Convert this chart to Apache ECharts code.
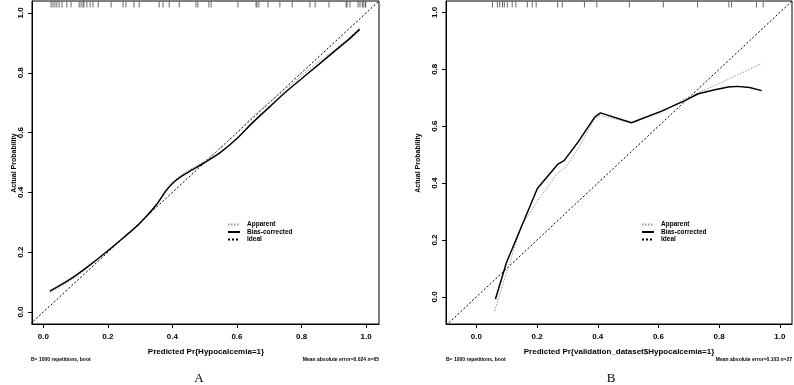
<!DOCTYPE html>
<html>
<head>
<meta charset="utf-8">
<script src="https://cdn.jsdelivr.net/npm/echarts@6/dist/echarts.min.js"></script>
<style>
  html, body { margin: 0; padding: 0; background: #fff; }
  #chart { width: 794px; height: 385px; }
</style>
</head>
<body>
<div id="chart"></div>
<script>
// panel A : training set calibration
const apparentA_x = [0.02, 0.05, 0.1, 0.15, 0.2, 0.25, 0.3, 0.35, 0.38, 0.4, 0.43, 0.46, 0.5, 0.55, 0.6, 0.65, 0.7, 0.75, 0.8, 0.85, 0.9, 0.95, 0.98];
const apparentA_y = [0.065, 0.082, 0.118, 0.16, 0.205, 0.25, 0.3, 0.362, 0.41, 0.435, 0.46, 0.48, 0.505, 0.55, 0.6, 0.655, 0.7, 0.745, 0.79, 0.835, 0.875, 0.92, 0.95];
const biasA_x = [0.02, 0.05, 0.1, 0.15, 0.2, 0.25, 0.3, 0.35, 0.38, 0.4, 0.43, 0.46, 0.5, 0.55, 0.6, 0.65, 0.7, 0.75, 0.8, 0.85, 0.9, 0.95, 0.98];
const biasA_y = [0.07, 0.088, 0.122, 0.162, 0.205, 0.25, 0.298, 0.358, 0.405, 0.43, 0.455, 0.475, 0.5, 0.535, 0.58, 0.635, 0.685, 0.735, 0.78, 0.825, 0.87, 0.915, 0.945];
const rugA = [0.024, 0.030, 0.036, 0.042, 0.049, 0.058, 0.073, 0.086, 0.111, 0.117, 0.123, 0.126, 0.135, 0.145, 0.154, 0.170, 0.210, 0.247, 0.256, 0.281, 0.297, 0.359, 0.371, 0.390, 0.421, 0.473, 0.479, 0.513, 0.520, 0.603, 0.659, 0.662, 0.668, 0.696, 0.733, 0.771, 0.826, 0.842, 0.885, 0.938, 0.941, 0.950, 0.975, 0.981, 0.988, 0.991, 0.997, 0.999];
const idealA = [-0.04, 1.04];

// panel B : validation set calibration
const apparentB_x = [0.06, 0.115, 0.148, 0.198, 0.269, 0.291, 0.335, 0.39, 0.409, 0.511, 0.61, 0.698, 0.8, 0.87, 0.94];
const apparentB_y = [-0.05, 0.138, 0.25, 0.332, 0.438, 0.452, 0.52, 0.626, 0.638, 0.612, 0.649, 0.702, 0.75, 0.785, 0.82];
const biasB_x = [0.063, 0.099, 0.201, 0.269, 0.289, 0.335, 0.39, 0.409, 0.511, 0.61, 0.687, 0.731, 0.786, 0.83, 0.86, 0.9, 0.94];
const biasB_y = [-0.007, 0.12, 0.381, 0.467, 0.479, 0.544, 0.632, 0.647, 0.612, 0.653, 0.69, 0.714, 0.728, 0.738, 0.74, 0.736, 0.725];
const rugB = [0.053, 0.069, 0.077, 0.086, 0.092, 0.102, 0.118, 0.130, 0.168, 0.184, 0.197, 0.268, 0.283, 0.356, 0.397, 0.504, 0.616, 0.729, 0.832, 0.841, 0.923, 0.945];
const idealB = [-0.1, 1.04];

const tickVals = [0, 0.2, 0.4, 0.6, 0.8, 1.0];
const legendNames = ['Apparent', 'Bias-corrected', 'Ideal'];

const FONT = 'Liberation Sans';

function pairs(xs, ys) {
    return xs.map(function (x, i) { return [x, ys[i]]; });
}

function xAxisFor(idx, min, max) {
    return {
        type: 'value', gridIndex: idx, min: min, max: max,
        splitLine: { show: false },
        axisLine: { show: true, onZero: false, lineStyle: { color: '#000', width: 1 } },
        axisTick: { show: true, length: 4, customValues: tickVals, lineStyle: { color: '#000' } },
        axisLabel: {
            customValues: tickVals, margin: 9, color: '#000',
            fontFamily: FONT, fontSize: 8, fontWeight: 'bold',
            formatter: function (v) { return v.toFixed(1); }
        }
    };
}

function yAxisFor(idx, min, max, margin) {
    return {
        type: 'value', gridIndex: idx, min: min, max: max,
        splitLine: { show: false },
        axisLine: { show: true, onZero: false, lineStyle: { color: '#000', width: 1 } },
        axisTick: { show: true, length: 4, customValues: tickVals, lineStyle: { color: '#000' } },
        axisLabel: {
            customValues: tickVals, margin: margin, rotate: 90, color: '#000',
            fontFamily: FONT, fontSize: 8, fontWeight: 'bold',
            formatter: function (v) { return v.toFixed(1); }
        }
    };
}

function seriesFor(idx, apparent, bias, ideal, rug, top, smooth) {
    return [
        {
            name: 'Ideal', type: 'line', xAxisIndex: idx, yAxisIndex: idx,
            data: [[ideal[0], ideal[0]], [ideal[1], ideal[1]]],
            symbol: 'none', silent: true, color: '#000',
            lineStyle: { color: '#000', width: 1, type: [2, 2] }
        },
        {
            name: 'Apparent', type: 'line', xAxisIndex: idx, yAxisIndex: idx,
            data: apparent, symbol: 'none', smooth: smooth, color: '#999',
            lineStyle: { color: '#999', width: 1, type: [1.5, 1.5] }
        },
        {
            name: 'Bias-corrected', type: 'line', xAxisIndex: idx, yAxisIndex: idx,
            data: bias, symbol: 'none', smooth: smooth, color: '#000',
            lineStyle: { color: '#000', width: 1.5 }
        },
        {
            name: 'rug', type: 'scatter', xAxisIndex: idx, yAxisIndex: idx,
            data: rug.map(function (x) { return [x, top]; }),
            symbol: 'rect', symbolSize: [0.9, 6], symbolOffset: [0, 3.5],
            itemStyle: { color: '#333' }, silent: true
        }
    ];
}

function legendFor(left) {
    return {
        data: legendNames, orient: 'vertical', left: left, top: 221, padding: 0,
        itemWidth: 12, itemHeight: 8, itemGap: 0.5, selectedMode: false,
        itemStyle: { opacity: 0 },
        textStyle: { fontFamily: FONT, fontSize: 6.5, fontWeight: 'bold', color: '#000', padding: [0, 0, 0, 2] }
    };
}

function label(text, x, y, opts) {
    return Object.assign({
        type: 'text', x: x, y: y,
        style: { text: text, fill: '#000', font: 'bold 8px "' + FONT + '"', align: 'center', verticalAlign: 'middle' }
    }, opts || {});
}

const chart = echarts.init(document.getElementById('chart'));

chart.setOption({
    animation: false,
    backgroundColor: '#fff',
    grid: [
        { left: 32, right: 415, top: 1, bottom: 61, show: true, borderColor: '#000', borderWidth: 1, containLabel: false },
        { left: 446, right: 2, top: 1, bottom: 61, show: true, borderColor: '#000', borderWidth: 1, containLabel: false }
    ],
    xAxis: [xAxisFor(0, -0.035, 1.04), xAxisFor(1, -0.1, 1.04)],
    yAxis: [yAxisFor(0, -0.04, 1.04, 7), yAxisFor(1, -0.095, 1.04, 7)],
    legend: [legendFor(227), legendFor(641)],
    series: [].concat(
        seriesFor(0, pairs(apparentA_x, apparentA_y), pairs(biasA_x, biasA_y), idealA, rugA, 1.04, 0.3),
        seriesFor(1, pairs(apparentB_x, apparentB_y), pairs(biasB_x, biasB_y), idealB, rugB, 1.04, false)
    ),
    graphic: [
        label('Actual Probability', 14, 163, { rotation: Math.PI / 2, style: { text: 'Actual Probability', fill: '#000', font: 'bold 7px "' + FONT + '"', align: 'center', verticalAlign: 'middle' } }),
        label('Actual Probability', 418, 163, { rotation: Math.PI / 2, style: { text: 'Actual Probability', fill: '#000', font: 'bold 7px "' + FONT + '"', align: 'center', verticalAlign: 'middle' } }),
        label('Predicted Pr{Hypocalcemia=1}', 206, 352),
        label('Predicted Pr{validation_dataset$Hypocalcemia=1}', 619, 352),
        { type: 'text', x: 31, y: 360, style: { text: 'B= 1000 repetitions, boot', fill: '#000', font: 'bold 5px "' + FONT + '"', align: 'left', verticalAlign: 'middle' } },
        { type: 'text', x: 379, y: 360, style: { text: 'Mean absolute error=0.024 n=65', fill: '#000', font: 'bold 5px "' + FONT + '"', align: 'right', verticalAlign: 'middle' } },
        { type: 'text', x: 446, y: 360, style: { text: 'B= 1000 repetitions, boot', fill: '#000', font: 'bold 5px "' + FONT + '"', align: 'left', verticalAlign: 'middle' } },
        { type: 'text', x: 792, y: 360, style: { text: 'Mean absolute error=0.103 n=27', fill: '#000', font: 'bold 5px "' + FONT + '"', align: 'right', verticalAlign: 'middle' } },
        { type: 'text', x: 199, y: 379, style: { text: 'A', fill: '#000', font: '13px "Liberation Serif"', align: 'center', verticalAlign: 'middle' } },
        { type: 'text', x: 611, y: 379, style: { text: 'B', fill: '#000', font: '13px "Liberation Serif"', align: 'center', verticalAlign: 'middle' } }
    ]
});
</script>
</body>
</html>
